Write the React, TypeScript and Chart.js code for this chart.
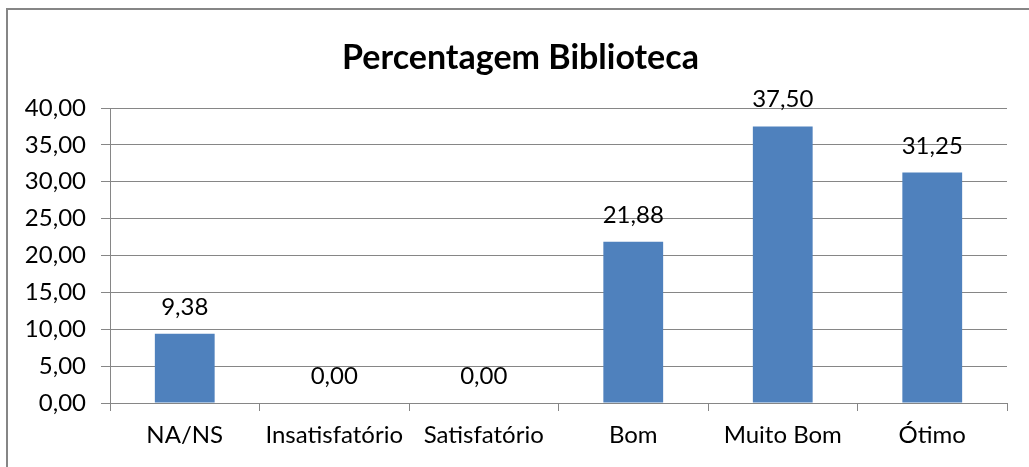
import React, { useEffect, useRef } from "react";
import { Chart, registerables } from "chart.js";

Chart.register(...registerables);

const TITLE = "Percentagem Biblioteca";
const categories = ["NA/NS", "Insatisfatório", "Satisfatório", "Bom", "Muito Bom", "Ótimo"];
const percentages = [9.38, 0.0, 0.0, 21.88, 37.5, 31.25];
const yMin = 0;
const yMax = 40;
const yStep = 5;

const FONT = "Lato, 'Open Sans', sans-serif";
const fmt = (v: number) => v.toFixed(2).replace(".", ",");

const valueLabels = {
  id: "valueLabels",
  afterDatasetsDraw(chart: any) {
    const ctx = chart.ctx;
    const meta = chart.getDatasetMeta(0);
    const data = chart.data.datasets[0].data as number[];
    ctx.save();
    ctx.font = `24px ${FONT}`;
    ctx.fillStyle = "#000";
    ctx.textAlign = "center";
    ctx.textBaseline = "alphabetic";
    meta.data.forEach((el: any, i: number) => {
      ctx.fillText(fmt(data[i]), el.x, el.y - 19);
    });
    ctx.restore();
  },
};

const titleText = {
  id: "titleText",
  afterDraw(chart: any) {
    const ctx = chart.ctx;
    ctx.save();
    ctx.font = `bold 34px ${FONT}`;
    ctx.fillStyle = "#000";
    ctx.textAlign = "center";
    ctx.textBaseline = "alphabetic";
    ctx.fillText(TITLE, 520.5, 69);
    ctx.restore();
  },
};

export default function App() {
  const ref = useRef<HTMLCanvasElement | null>(null);
  useEffect(() => {
    document.body.style.margin = "0";
    if (!ref.current) return;
    const chart = new Chart(ref.current, {
      type: "bar",
      data: {
        labels: categories,
        datasets: [
          {
            data: percentages,
            backgroundColor: "#4F81BD",
            borderWidth: 0,
            categoryPercentage: 1,
            barPercentage: 0.4,
          },
        ],
      },
      options: {
        animation: false,
        responsive: false,
        devicePixelRatio: 1,
        layout: { padding: { left: 0, right: 22, top: 108, bottom: 0 } },
        plugins: {
          legend: { display: false },
          tooltip: { enabled: false },
          title: { display: false },
        },
        scales: {
          x: {
            grid: {
              display: true,
              drawOnChartArea: false,
              drawTicks: true,
              tickLength: 8,
              color: "#868686",
              offset: true,
            },
            border: { display: true, color: "#868686", width: 1 },
            ticks: {
              color: "#000",
              font: { family: FONT, size: 24 },
              padding: 10,
              maxRotation: 0,
              autoSkip: false,
            },
            afterFit: (s: any) => {
              s.height = 64;
            },
          },
          y: {
            min: yMin,
            max: yMax,
            grid: {
              color: "#868686",
              tickLength: 9,
              drawTicks: true,
            },
            border: { display: true, color: "#868686", width: 1 },
            ticks: {
              stepSize: yStep,
              color: "#000",
              font: { family: FONT, size: 24 },
              padding: 15,
              callback: (v: any) => fmt(Number(v)),
            },
            afterFit: (s: any) => {
              s.width = 110;
            },
          },
        },
      },
      plugins: [valueLabels, titleText],
    });
    return () => chart.destroy();
  }, []);

  return (
    <div style={{ position: "relative", width: 1029, height: 467, overflow: "hidden", background: "#fff" }}>
      <div
        style={{
          position: "absolute",
          left: 6,
          top: 8,
          width: 1100,
          height: 600,
          border: "2px solid #868686",
          boxSizing: "border-box",
        }}
      />
      <canvas ref={ref} width={1029} height={467} style={{ position: "absolute", left: 0, top: 0 }} />
    </div>
  );
}
